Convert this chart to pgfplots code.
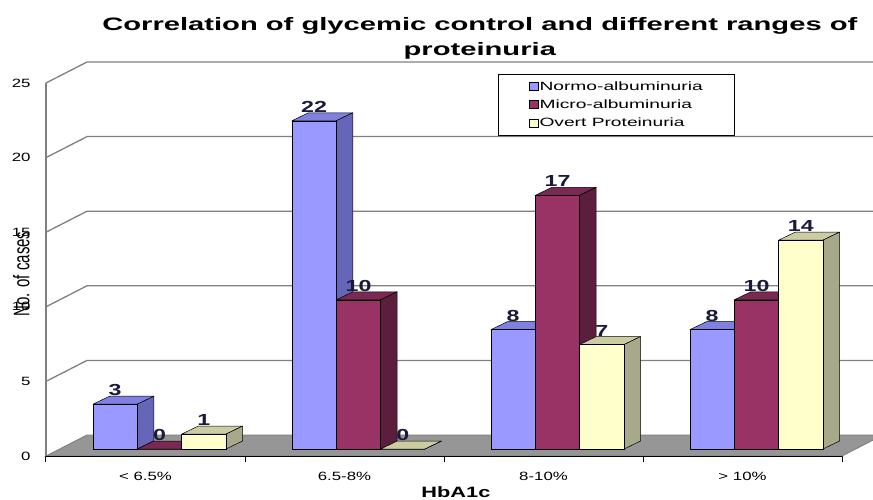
\documentclass[border=0pt]{standalone}
\usepackage{fontspec}
\setmainfont{Liberation Sans}[FakeStretch=1.4]
\newfontfamily\titlefont{Liberation Sans}[FakeStretch=1.62]
\newfontfamily\legfont{Liberation Sans}[FakeStretch=1.6]
\newfontfamily\plainfont{Liberation Sans}
\newfontfamily\labfont{Liberation Sans}[FakeStretch=1.45]
\usepackage{graphicx}
\usepackage{pgfplots}
\pgfplotsset{compat=1.18}
\pgfdeclareplotmark{nothing}{}
\definecolor{nf}{HTML}{9999FF}\definecolor{ns}{HTML}{6666B8}\definecolor{nt}{HTML}{8080E0}
\definecolor{mf}{HTML}{993366}\definecolor{ms}{HTML}{5C1E3D}\definecolor{mt}{HTML}{7A2952}
\definecolor{of}{HTML}{FFFFCC}\definecolor{os}{HTML}{A8A88A}\definecolor{ot}{HTML}{CCCCA3}
\definecolor{gridc}{HTML}{808080}
\definecolor{floorc}{HTML}{969696}
\definecolor{floorline}{HTML}{7A7A7A}
\definecolor{labc}{HTML}{1A1A3A}
\pgfplotsset{cuboid/.style n args={3}{scatter, only marks, mark=nothing,
  visualization depends on={rawy \as \barval},
  scatter/@pre marker code/.code={%
    \pgfmathsetmacro\hh{\barval*14.92}%
    \pgfmathsetmacro\yb{7-\hh}%
    \pgfmathsetmacro\yc{15-\hh}%
    \filldraw[fill=#3, draw=black, line width=0.5pt, line join=round] (-8.15pt,7pt) -- (36.15pt,7pt) -- (52.65pt,15pt) -- (8.35pt,15pt) -- cycle;
    \filldraw[fill=#2, draw=black, line width=0.5pt, line join=round] (36.15pt,7pt) -- (52.65pt,15pt) -- (52.65pt,\yc pt) -- (36.15pt,\yb pt) -- cycle;
    \filldraw[fill=#1, draw=black, line width=0.5pt] (-8.15pt,\yb pt) rectangle (36.15pt,7pt);
    \node[font=\labfont\bfseries\fontsize{16}{18}\selectfont, text=labc] at (14pt,21pt) {\pgfmathprintnumber[fixed,precision=0]{\barval}};
  },
  scatter/@post marker code/.code={},
  legend image code/.code={\filldraw[fill=#1, draw=black, line width=0.5pt] (0pt,-4pt) rectangle (9pt,4pt);}
}}
\begin{document}
\begin{tikzpicture}
\begin{axis}[
  x=199pt, y=14.92pt,
  xmin=-0.5, xmax=3.5, ymin=0, ymax=25,
  clip=false,
  axis lines*=left,
  axis line style={draw=none},
  xtick={0,1,2,3},
  xticklabels={{< 6.5\%},{6.5-8\%},{8-10\%},{> 10\%}},
  minor xtick={-0.5,0.5,1.5,2.5,3.5},
  ytick={0,5,...,25},
  major tick length=0pt,
  minor tick length=6pt,
  tick align=outside,
  minor tick style={black, line width=1pt},
  /pgf/number format/assume math mode=true,
  tick label style={font=\fontsize{12}{14}\selectfont, text=black},
  xticklabel style={yshift=-13pt},
  yticklabel style={xshift=-12pt},
  xlabel={HbA1c},
  xlabel style={at={(0.515,-0.097)}, anchor=center, font=\labfont\bfseries\fontsize{15}{17}\selectfont},
  ylabel={\scalebox{1}[1.5]{No. of cases}},
  ylabel style={at={(-0.031,0.488)}, anchor=center, font=\plainfont\fontsize{15}{17}\selectfont},
  title={Correlation of glycemic control and different ranges of\\proteinuria},
  title style={at={(0.545,1.104)}, anchor=center, align=center, font=\titlefont\bfseries\fontsize{18}{25}\selectfont},
  legend style={at={(0.568,1.024)}, anchor=north west, draw=black, line width=0.8pt,
    font=\legfont\fontsize{12}{14}\selectfont, inner xsep=30pt, inner ysep=5pt, row sep=4pt,
    nodes={inner xsep=1.5pt, inner ysep=2pt},
    cells={anchor=west}},
]
\coordinate (O) at (axis cs:-0.5,0);
\pgfplotsinvokeforeach{5,10,15,20,25}{
  \draw[gridc, line width=1.3pt] (axis cs:-0.5,#1) -- ([shift={(41pt,21pt)}]axis cs:-0.5,#1) -- ([shift={(0pt,21pt)}]axis cs:3.66,#1);
}
\filldraw[fill=floorc, draw=floorline, line width=0.8pt] (axis cs:-0.5,0) -- ([shift={(41pt,21pt)}]axis cs:-0.5,0) -- ([shift={(41pt,21pt)}]axis cs:3.5,0) -- (axis cs:3.5,0) -- cycle;
\draw[gridc, line width=1.3pt] (axis cs:-0.5,0) -- (axis cs:-0.5,25);
\draw[black, line width=1pt] (axis cs:-0.5,0) -- (axis cs:3.5,0);

\addplot[cuboid={nf}{ns}{nt}] coordinates {(-0.223,3) (0.777,22) (1.777,8) (2.777,8)};
\addlegendentry{Normo-albuminuria}
\addplot[cuboid={mf}{ms}{mt}] coordinates {(0,0) (1,10) (2,17) (3,10)};
\addlegendentry{Micro-albuminuria}
\addplot[cuboid={of}{os}{ot}] coordinates {(0.223,1) (1.223,0) (2.223,7) (3.223,14)};
\addlegendentry{Overt Proteinuria}
\end{axis}
\pgfresetboundingbox
\path[use as bounding box] ([shift={(-46pt,-43pt)}]O) rectangle ([shift={(827pt,456pt)}]O);
\end{tikzpicture}
\end{document}
